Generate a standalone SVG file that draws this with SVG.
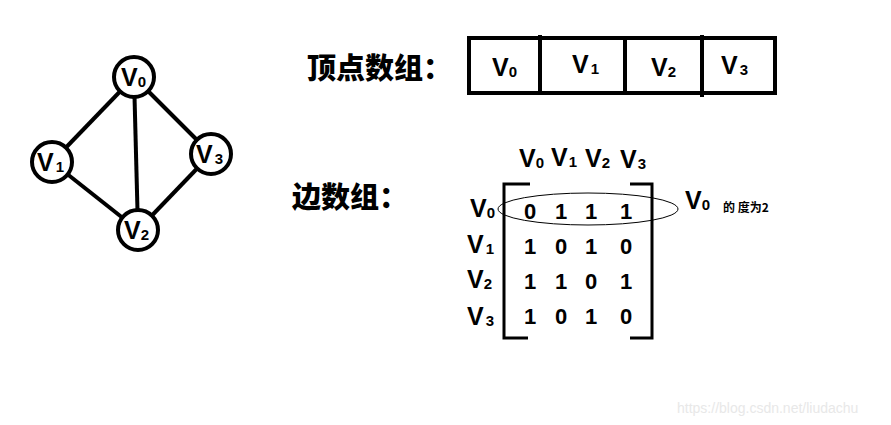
<svg xmlns="http://www.w3.org/2000/svg" width="891" height="425" viewBox="0 0 891 425">
<style>
.n{fill:#fff;stroke:#000;stroke-width:4}
.e{stroke:#000;stroke-width:4;fill:none}
.v{font-family:"Liberation Sans",Arial,sans-serif;font-weight:bold;font-size:25px;fill:#000}
.s{font-size:15px}
.t{font-family:"Noto Sans CJK SC",sans-serif;font-weight:900;font-size:29px;fill:#000}
.d{font-family:"Liberation Sans",Arial,sans-serif;font-weight:bold;font-size:22px;fill:#000}
.b{stroke:#000;stroke-width:3;fill:none}
</style>
<rect width="891" height="425" fill="#fff"/>
<g id="edges">
<line class="e" x1="134" y1="77" x2="52" y2="162"/>
<line class="e" x1="134" y1="77" x2="138" y2="230"/>
<line class="e" x1="134" y1="77" x2="211" y2="154"/>
<line class="e" x1="52" y1="162" x2="138" y2="230"/>
<line class="e" x1="211" y1="154" x2="138" y2="230"/>
</g>
<g id="V0"><circle class="n" cx="134" cy="77" r="20"/><text class="v" x="121" y="86">V<tspan class="s" dy="1">0</tspan></text></g>
<g id="V1"><circle class="n" cx="52" cy="162" r="20"/><text class="v" x="37" y="171">V<tspan class="s" dx="2" dy="1">1</tspan></text></g>
<g id="V2"><circle class="n" cx="138" cy="230" r="20"/><text class="v" x="124" y="239">V<tspan class="s" dy="1">2</tspan></text></g>
<g id="V3"><circle class="n" cx="211" cy="154" r="20"/><text class="v" x="196" y="163">V<tspan class="s" dx="2" dy="1">3</tspan></text></g>
<g id="vertexTitle"><text class="t" x="307" y="79">顶点数组：</text></g>
<g id="vertexArray">
<rect x="469" y="38" width="306" height="55" fill="none" stroke="#000" stroke-width="4"/>
<line class="e" x1="540" y1="35" x2="540" y2="93"/>
<line class="e" x1="625" y1="38" x2="625" y2="93"/>
<line class="e" x1="702" y1="35" x2="702" y2="97"/>
<text class="v" x="492" y="76">V<tspan class="s" dy="1">0</tspan></text>
<text class="v" x="572" y="73">V<tspan class="s" dx="2" dy="1">1</tspan></text>
<text class="v" x="651" y="76">V<tspan class="s" dy="1">2</tspan></text>
<text class="v" x="721" y="74">V<tspan class="s" dx="2" dy="1">3</tspan></text>
</g>
<g id="edgeTitle"><text class="t" x="292" y="208">边数组：</text></g>
<g id="matrix">
<text class="v" x="519" y="167">V<tspan class="s" dy="1">0</tspan></text>
<text class="v" x="551" y="166">V<tspan class="s" dx="1" dy="1">1</tspan></text>
<text class="v" x="585" y="167">V<tspan class="s" dy="1">2</tspan></text>
<text class="v" x="620" y="168">V<tspan class="s" dx="1" dy="1">3</tspan></text>
<text class="v" x="470" y="217">V<tspan class="s" dy="1">0</tspan></text>
<text class="v" x="467" y="253">V<tspan class="s" dx="2" dy="1">1</tspan></text>
<text class="v" x="467" y="288">V<tspan class="s" dy="1">2</tspan></text>
<text class="v" x="467" y="325">V<tspan class="s" dx="2" dy="1">3</tspan></text>
<path class="b" d="M530,184 H504 V338 H528"/>
<path class="b" d="M630,184 H652 V338 H630"/>
<ellipse cx="588" cy="209" rx="90" ry="16" fill="none" stroke="#000" stroke-width="1"/>
<g class="d" text-anchor="middle">
<text x="530" y="219">0</text><text x="561" y="219">1</text><text x="591" y="219">1</text><text x="626" y="219">1</text>
<text x="530" y="254">1</text><text x="561" y="254">0</text><text x="591" y="254">1</text><text x="626" y="254">0</text>
<text x="530" y="289">1</text><text x="561" y="289">1</text><text x="591" y="289">0</text><text x="626" y="289">1</text>
<text x="530" y="324">1</text><text x="561" y="324">0</text><text x="591" y="324">1</text><text x="626" y="324">0</text>
</g>
<text class="v" x="685" y="209">V<tspan class="s" dy="1">0</tspan></text>
<text x="723" y="212" font-family="Noto Sans CJK SC,sans-serif" font-weight="bold" font-size="12">的 度为2</text>
</g>
<text x="677" y="413" font-family="Liberation Sans,Arial,sans-serif" font-size="14" fill="#e8e8e8">https://blog.csdn.net/liudachu</text>
</svg>
